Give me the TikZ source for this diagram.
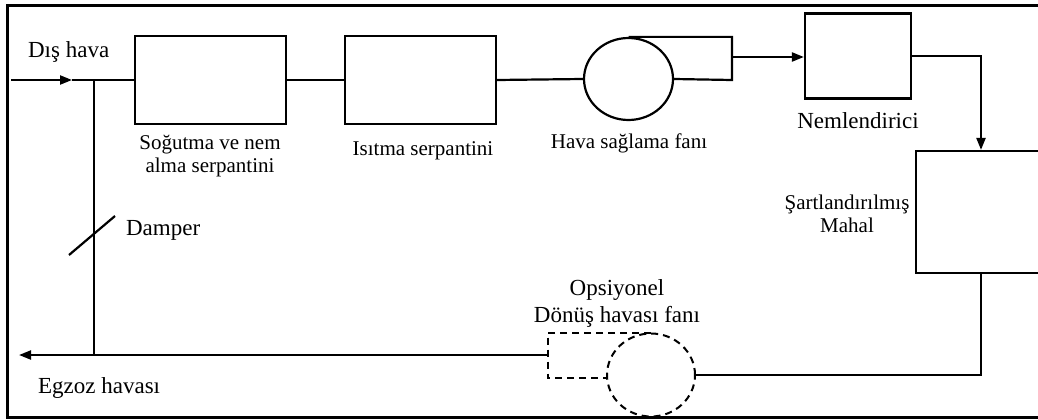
\documentclass[tikz,border=0pt]{standalone}
\usepackage{fontspec}
\setmainfont{Liberation Serif}
\usetikzlibrary{
	shapes.geometric,
	arrows.meta
}

\tikzset{
	box/.style={draw,rectangle,minimum width=151pt,minimum height=88pt,inner sep=0pt},
	fan/.style={draw,ellipse,minimum width=89pt,minimum height=82pt,inner sep=0pt},
	lbl/.style={font=\fontsize{21}{23}\selectfont,align=center,anchor=base,inner sep=0pt},
	big/.style={font=\fontsize{23}{27}\selectfont},
	flow/.style={-{Triangle[length=12pt,width=9pt]}},
	opt/.style={line width=2pt,dash pattern=on 7pt off 5pt}
}

\begin{document}
\begin{tikzpicture}[x=1pt,y=-1pt,line width=2.2pt]
	\useasboundingbox (0,0) rectangle (1038,420);
	\clip (0,0) rectangle (1038,420);
	% frame
	\draw[line width=3pt] (1050,6) -- (7,6) -- (7,417) -- (1050,417);

	\draw
		node[box]                                          (cool) at (210.5,80)   {}
		node[box]                                          (heat) at (420.5,80)   {}
		node[fan]                                          (sfan) at (628.5,79)   {}
		node[box,minimum width=106pt,minimum height=85pt]  (hum)  at (858,56)     {}
		node[box,minimum width=130pt,minimum height=122pt] (room) at (981,212)    {}
		node[fan,opt,minimum width=88pt,minimum height=83pt] (rfan) at (651,375) {}
	;

	\coordinate (inlet) at (11,80);
	\coordinate (tip)   at (72,80);
	\coordinate (mix)   at (94,80);
	\coordinate (exh)   at (19,355);
	\coordinate (sout)  at (732,57);
	\coordinate (rin)   at (548,355);

	% supply side
	\draw[flow] (inlet) -- (tip);
	\draw (tip) -- (tip -| cool.west);
	\draw (cool.east) -- (heat.west);
	\draw (heat.east) -- (sfan.west);
	\draw (sfan.north) -| (sout) -- ++(0,23) -- (sfan.east);
	\draw[flow] (sout) -- (sout -| hum.west);
	\draw[flow] (hum.east) -| (room.north);

	% return side
	\draw (room.south) |- (rfan.east);
	\draw[opt] (rfan.north) -| (rin) |- (rfan.184);
	\draw[flow] (rin) -- (exh);
	\draw (mix) -- (mix |- exh);
	\draw (69,255) -- (115,216); % damper

	% labels
	\node[lbl,big,anchor=base west] (outtxt)  at (27,57)    {Dış hava};
	\node[lbl]                      (cooltxt) at (210,172)  {Soğutma ve nem\\alma serpantini};
	\node[lbl]                      (heattxt) at (423,155)  {Isıtma serpantini};
	\node[lbl]                      (sfantxt) at (629,148)  {Hava sağlama fanı};
	\node[lbl,big]                  (humtxt)  at (858,128)  {Nemlendirici};
	\node[lbl]                      (roomtxt) at (847,232)  {Şartlandırılmış\\Mahal};
	\node[lbl,big]                  (rfantxt) at (617,322)  {Opsiyonel\\Dönüş havası fanı};
	\node[lbl,big,anchor=base west] (dmptxt)  at (125,235)  {Damper};
	\node[lbl,big,anchor=base west] (exhtxt)  at (37,393)   {Egzoz havası};
\end{tikzpicture}
\end{document}
